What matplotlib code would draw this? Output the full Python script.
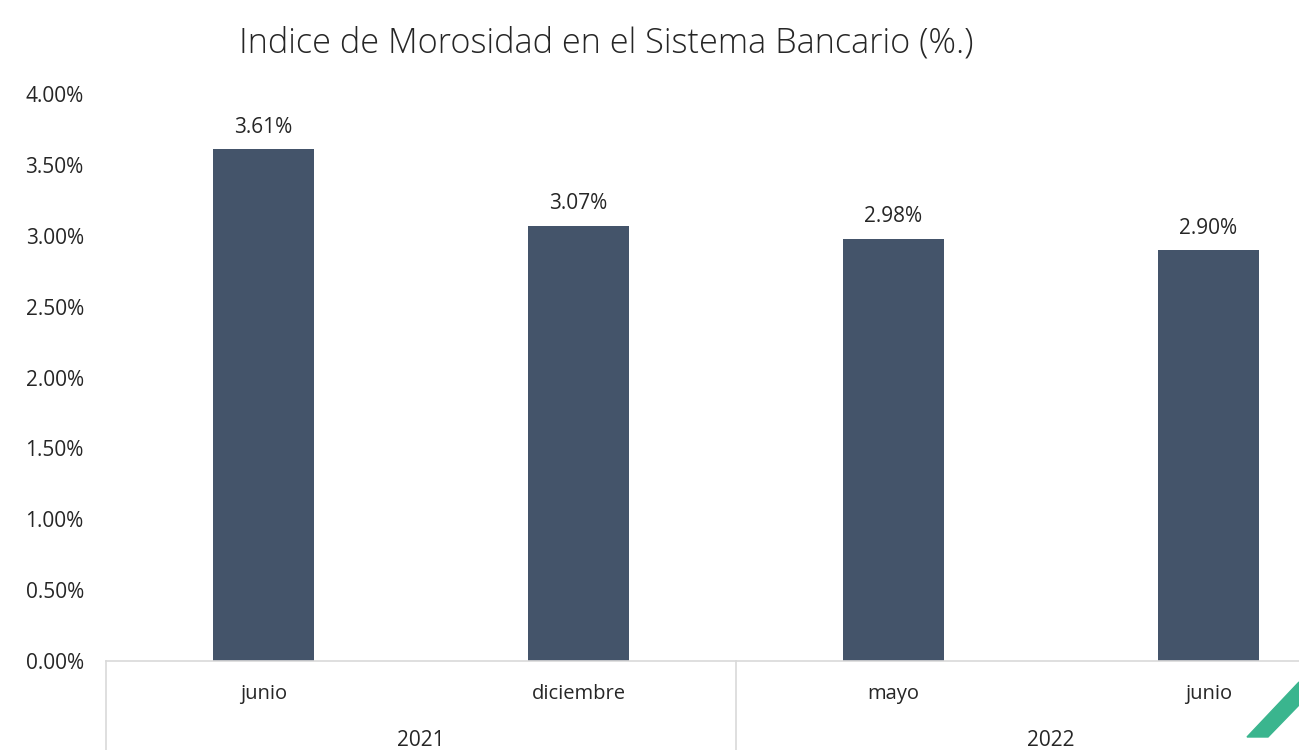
import matplotlib.pyplot as plt
from matplotlib.patches import Polygon

# Morosidad del sistema bancario por periodo
meses = ['junio', 'diciembre', 'mayo', 'junio']
anios = ['2021', '2022']
meses_por_anio = [2, 2]
morosidad = [3.61, 3.07, 2.98, 2.90]

plt.rcParams['font.family'] = ['Open Sans', 'DejaVu Sans']
texto = '#262626'
gris = '#d9d9d9'

fig = plt.figure(figsize=(12.99, 7.5), dpi=100)
# el area de graficos continua mas alla del borde derecho
ax = fig.add_axes([106 / 1299, (750 - 661) / 750, 1260 / 1299, (661 - 94) / 750])

x = list(range(len(meses)))
ax.bar(x, morosidad, width=0.32, color='#44546a', zorder=2)
for xi, v in zip(x, morosidad):
    ax.text(xi, v + 0.08, f'{v:.2f}%', ha='center', va='bottom', fontsize=15, color=texto)

ax.set_xlim(-0.5, len(meses) - 0.5)
ax.set_ylim(0, 4)
ax.set_yticks([i * 0.5 for i in range(9)])
ax.set_yticklabels([f'{i * 0.5:.2f}%' for i in range(9)], fontsize=15, color=texto)
ax.tick_params(axis='y', length=0, pad=16)
ax.set_xticks([])

for s in ['top', 'right', 'left']:
    ax.spines[s].set_visible(False)
ax.spines['bottom'].set_color(gris)
ax.spines['bottom'].set_linewidth(1.2)

# etiquetas de categoria en dos niveles
trans = ax.get_xaxis_transform()
for xi, m in zip(x, meses):
    ax.text(xi, -0.058, m, transform=trans, ha='center', va='center', fontsize=14.5, color=texto)

inicio = -0.5
for anio, n in zip(anios, meses_por_anio):
    ax.plot([inicio, inicio], [0, -0.16], transform=trans, color=gris, lw=1.2, clip_on=False)
    ax.text(inicio + n / 2, -0.14, anio, transform=trans, ha='center', va='center',
            fontsize=15, color=texto)
    inicio += n
ax.plot([inicio, inicio], [0, -0.16], transform=trans, color=gris, lw=1.2, clip_on=False)

fig.text(606 / 1299, 1 - 43 / 750, 'Indice de Morosidad en el Sistema Bancario (%.)',
         ha='center', va='center', fontsize=24.7, fontweight='light', color=texto)

# franja verde en la esquina inferior derecha
fig.patches.append(Polygon([[1247 / 1299, 1 - 737 / 750], [1268 / 1299, 1 - 737 / 750],
                            [1299 / 1299, 1 - 705 / 750], [1299 / 1299, 1 - 682 / 750]],
                           closed=True, transform=fig.transFigure, color='#3ab58e', zorder=5))

fig.savefig('out.png', dpi=100)
